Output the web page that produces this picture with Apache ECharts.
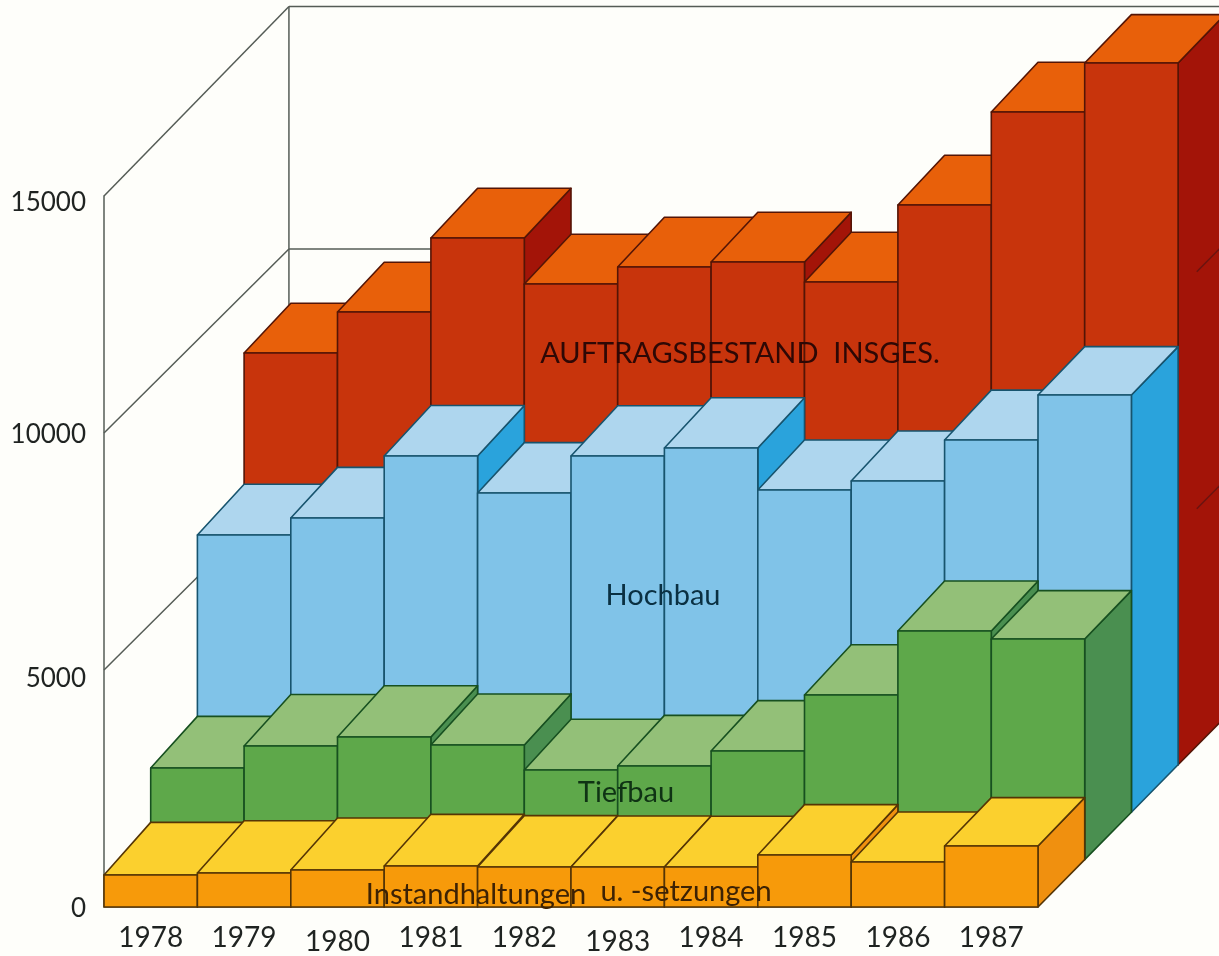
<!DOCTYPE html>
<html>
<head>
<meta charset="utf-8">
<style>
  html, body { margin: 0; padding: 0; background: #fefefa; }
  #chart { width: 1219px; height: 956px; }
</style>
<script src="https://cdn.jsdelivr.net/npm/echarts@6/dist/echarts.min.js"></script>
</head>
<body>
<div id="chart"></div>
<script>
let years = ['1978', '1979', '1980', '1981', '1982', '1983', '1984', '1985', '1986', '1987'];
let yTicks = [5000, 10000, 15000];

let instandhaltung = [675, 717, 781, 865, 844, 844, 844, 1097, 949, 1287];
let tiefbau = [1932, 2397, 2586, 2418, 1890, 1975, 2291, 3473, 4823, 4654];
let hochbau = [5848, 6207, 7515, 6734, 7515, 7684, 6797, 6987, 7852, 8802];
let insgesamt = [8688, 9553, 11114, 10143, 10502, 10608, 10186, 11810, 13772, 14806];

// one row of boxes = half a bar wide and 1000 units high on screen
let rowRise = 1000;
let faint = '#555c56';
let textColor = '#1f2321';

function corner(api, i, v, across, depth, depthY) {
    let c = api.coord([i, v]);
    let s = api.size([1, rowRise]);
    let dy = depthY === undefined ? depth : depthY;
    return [c[0] + (across - 0.5 + depth * 0.5) * s[0], c[1] - dy * s[1]];
}

function poly(points, fill, stroke) {
    return {
        type: 'polygon',
        shape: { points: points },
        style: { fill: fill, stroke: stroke, lineWidth: 1.6, lineJoin: 'round' }
    };
}

// the drawing is slightly in perspective: top faces look a bit deeper than the row step
function topStretch(i, row) {
    if (i === years.length - 1) return 1.02;
    return 1.05 + 0.06 * (1 - i / 9) * (1 - row / 3);
}

function rowSeries(name, values, row, colors) {
    return {
        name: name,
        type: 'custom',
        silent: true,
        clip: false,
        data: values.map((v, i) => [i, v]),
        encode: { x: 0, y: 1 },
        renderItem: (params, api) => {
            let i = api.value(0);
            let v = api.value(1);
            let d0 = row;
            let d1 = row + 1;
            let back = row + topStretch(i, row);
            let P = (across, val, depth, depthY) => corner(api, i, val, across, depth, depthY);
            return {
                type: 'group',
                children: [
                    poly([P(1, v, d0), P(1, v, d1, back), P(1, 0, d1), P(1, 0, d0)], colors.side, colors.line),
                    poly([P(0, v, d0), P(1, v, d0), P(1, v, d1, back), P(0, v, d1, back)], colors.top, colors.line),
                    poly([P(0, 0, d0), P(1, 0, d0), P(1, v, d0), P(0, v, d0)], colors.front, colors.line)
                ]
            };
        }
    };
}

function line(a, b, color) {
    return {
        type: 'line',
        shape: { x1: a[0], y1: a[1], x2: b[0], y2: b[1] },
        style: { stroke: color, lineWidth: 1.5 }
    };
}

// lines of the left and back wall, behind all boxes
let wallSeries = {
    type: 'custom',
    silent: true,
    clip: false,
    z: 1,
    data: yTicks.map(t => [0, t]),
    encode: { x: 0, y: 1 },
    renderItem: (params, api) => {
        let v = api.value(1);
        let depth = v === 15000 ? 4 : 3.88;
        let front = corner(api, 0, v, 0, 0);
        let back = corner(api, 0, v, 0, 3.96, depth);
        let kids = [
            line(front, back, faint),
            line(back, [api.getWidth(), back[1]], faint)
        ];
        if (v === 15000) {
            kids.push(line(back, corner(api, 0, 7400, 0, 3.96, 4), faint));
        }
        return { type: 'group', children: kids };
    }
};

// the right wall's lines only show where they cross the dark red side
let sideLines = {
    type: 'custom',
    silent: true,
    clip: false,
    z: 3,
    data: [[9, 5000], [9, 10000]],
    encode: { x: 0, y: 1 },
    renderItem: (params, api) => {
        let v = api.value(1);
        return line(corner(api, 9, v, 1, 3.4), corner(api, 9, v, 1, 4), '#6a1410');
    }
};

let xShift = { '1980': 4, '1983': 4 };
let yShift = { 0: 4, 5000: 18, 10000: 4, 15000: 14 };
let richY = {};
yTicks.concat([0]).forEach(t => {
    richY['v' + t] = {
        fontFamily: 'Lato', fontSize: 26, color: textColor,
        padding: [yShift[t], 0, 0, 0]
    };
});
let richX = {
    plain: { fontFamily: 'Lato', fontSize: 28, color: textColor },
    low: { fontFamily: 'Lato', fontSize: 28, color: textColor, padding: [4, 0, 0, 0] }
};

function note(text, x, y, color) {
    return {
        type: 'text',
        x: x,
        y: y,
        style: {
            text: text,
            fill: color,
            font: '29px Lato',
            textAlign: 'center',
            textVerticalAlign: 'middle'
        },
        z: 100
    };
}

let option = {
    animation: false,
    backgroundColor: '#fefefa',
    grid: { left: 104, top: 196, width: 934, height: 711, outerBoundsMode: 'none' },
    xAxis: {
        type: 'category',
        data: years,
        axisLine: { show: true, lineStyle: { color: '#8a8a80', width: 1 } },
        axisTick: { show: false },
        axisLabel: {
            margin: 17,
            interval: 0,
            formatter: val => xShift[val] ? '{low|' + val + '}' : '{plain|' + val + '}',
            rich: richX
        }
    },
    yAxis: {
        type: 'value',
        min: 0,
        max: 15000,
        interval: 5000,
        axisLine: { show: true, lineStyle: { color: faint, width: 1.5 } },
        axisTick: { show: false },
        splitLine: { show: false },
        axisLabel: {
            margin: 18,
            formatter: val => '{v' + val + '|' + val + '}',
            rich: richY
        }
    },
    graphic: [
        note('AUFTRAGSBESTAND  INSGES.', 740, 354, '#2e0805'),
        note('Hochbau', 663, 596, '#0a3042'),
        note('Tiefbau', 626, 793, '#0f3314'),
        note('Instandhaltungen', 476, 895, '#3d2204'),
        note('u. -setzungen', 686, 892, '#3d2204')
    ],
    series: [
        wallSeries,
        Object.assign(rowSeries('Auftragsbestand insges.', insgesamt, 3,
            { front: '#c8340c', top: '#e8600a', side: '#a31408', line: '#541506' }), { z: 2 }),
        Object.assign(rowSeries('Hochbau', hochbau, 2,
            { front: '#80c3e8', top: '#aed6ee', side: '#2aa3dc', line: '#17546e' }), { z: 4 }),
        Object.assign(rowSeries('Tiefbau', tiefbau, 1,
            { front: '#5ea84a', top: '#93c078', side: '#4a8f50', line: '#175020' }), { z: 5 }),
        Object.assign(rowSeries('Instandhaltungen u. -setzungen', instandhaltung, 0,
            { front: '#f79a0a', top: '#fbd02e', side: '#f0900f', line: '#553505' }), { z: 6 }),
        sideLines
    ]
};

let mychart = echarts.init(document.getElementById('chart'));
mychart.setOption(option);
</script>
</body>
</html>
